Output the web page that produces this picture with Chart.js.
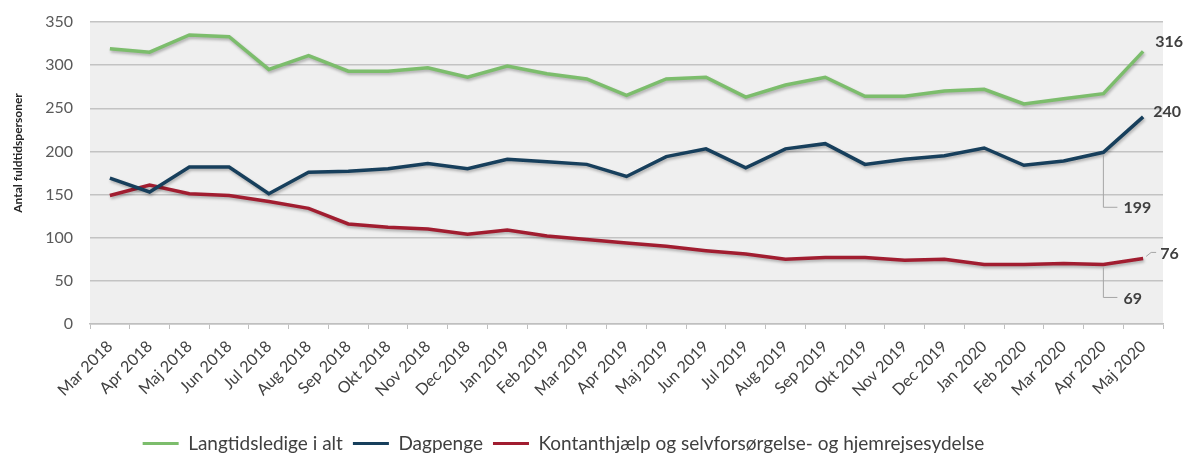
<!DOCTYPE html>
<html lang="da">
<head>
<meta charset="utf-8">
<script src="https://cdn.jsdelivr.net/npm/chart.js@4/dist/chart.umd.min.js"></script>
<style>
  html, body { margin: 0; padding: 0; background: #ffffff; }
  #wrap { width: 1184px; height: 456px; }
</style>
</head>
<body>
<div id="wrap"><canvas id="graf"></canvas></div>
<script>
// Måneder på x-aksen
const maaneder = ['Mar 2018', 'Apr 2018', 'Maj 2018', 'Jun 2018', 'Jul 2018', 'Aug 2018', 'Sep 2018', 'Okt 2018',
  'Nov 2018', 'Dec 2018', 'Jan 2019', 'Feb 2019', 'Mar 2019', 'Apr 2019', 'Maj 2019', 'Jun 2019', 'Jul 2019',
  'Aug 2019', 'Sep 2019', 'Okt 2019', 'Nov 2019', 'Dec 2019', 'Jan 2020', 'Feb 2020', 'Mar 2020', 'Apr 2020', 'Maj 2020'];

// Antal fuldtidspersoner pr. serie
const langtidsledige = [319, 315, 335, 333, 295, 311, 293, 293, 297, 286, 299, 290, 284, 265, 284, 286, 263, 277, 286, 264, 264, 270, 272, 255, 261, 267, 316];
const dagpenge = [169, 153, 182, 182, 151, 176, 177, 180, 186, 180, 191, 188, 185, 171, 194, 203, 181, 203, 209, 185, 191, 195, 204, 184, 189, 199, 240];
const kontanthjaelp = [149, 161, 151, 149, 142, 134, 116, 112, 110, 104, 109, 102, 98, 94, 90, 85, 81, 75, 77, 77, 74, 75, 69, 69, 70, 69, 76];

const yTicks = [0, 50, 100, 150, 200, 250, 300, 350];

// Hvilke punkter får en værditekst: [serie, indeks]
const etiketter = [[0, 26], [1, 26], [1, 25], [2, 26], [2, 25]];

const FONT = 'Lato, "Open Sans", sans-serif';

/* baggrund i plotområdet */
const baggrund = {
  id: 'baggrund',
  beforeDraw(chart) {
    const { ctx, chartArea: a } = chart;
    ctx.save();
    ctx.fillStyle = '#efefef';
    ctx.fillRect(a.left, a.top, a.right - a.left, a.bottom - a.top);
    ctx.restore();
  }
};

/* flytter forklaringen lidt ned og til venstre, som i originalen */
const flytLegende = {
  id: 'flytLegende',
  afterLayout(chart) {
    const l = chart.legend;
    l.left -= 18;
    l.right -= 18;
    l.top += 9;
    l.bottom += 9;
  }
};

/* aksetitel til venstre (tegnes selv for at ramme placeringen) */
const aksetitel = {
  id: 'aksetitel',
  afterDraw(chart) {
    const ctx = chart.ctx;
    ctx.save();
    ctx.translate(18, 153);
    ctx.rotate(-Math.PI / 2);
    ctx.font = 'bold 12px ' + FONT;
    ctx.fillStyle = '#262626';
    ctx.textAlign = 'center';
    ctx.textBaseline = 'middle';
    ctx.fillText('Antal fuldtidspersoner', 0, 0);
    ctx.restore();
  }
};

/* svag skygge under linjerne */
const skygge = {
  id: 'skygge',
  beforeDatasetDraw(chart) {
    const ctx = chart.ctx;
    ctx.save();
    ctx.shadowColor = 'rgba(0,0,0,0.28)';
    ctx.shadowBlur = 3;
    ctx.shadowOffsetX = 1;
    ctx.shadowOffsetY = 2;
  },
  afterDatasetDraw(chart) {
    chart.ctx.restore();
  }
};

/* værditekster med små forbindelseslinjer */
const vaerdier = {
  id: 'vaerdier',
  afterDatasetsDraw(chart) {
    const ctx = chart.ctx;
    ctx.save();
    ctx.font = 'bold 16px ' + FONT;
    ctx.fillStyle = '#404040';
    ctx.textBaseline = 'middle';
    ctx.textAlign = 'left';
    ctx.strokeStyle = '#a6a6a6';
    ctx.lineWidth = 1;

    etiketter.forEach(([s, i]) => {
      const p = chart.getDatasetMeta(s).data[i];
      const v = chart.data.datasets[s].data[i];
      const tekst = String(v);
      const sidste = i === chart.data.labels.length - 1;

      if (sidste && s === 0) {
        ctx.fillText(tekst, p.x + 12, p.y - 9);
      } else if (sidste && s === 1) {
        ctx.fillText(tekst, p.x + 10, p.y - 5);
      } else if (sidste && s === 2) {
        ctx.beginPath();
        ctx.moveTo(p.x + 3, p.y - 2);
        ctx.lineTo(p.x + 8, p.y - 6);
        ctx.lineTo(p.x + 13, p.y - 6);
        ctx.stroke();
        ctx.fillText(tekst, p.x + 17, p.y - 5);
      } else {
        const ned = s === 1 ? 55 : 33;
        ctx.beginPath();
        ctx.moveTo(p.x, p.y + 3);
        ctx.lineTo(p.x, p.y + ned);
        ctx.lineTo(p.x + 14, p.y + ned);
        ctx.stroke();
        ctx.fillText(tekst, p.x + 20, p.y + ned + 1);
      }
    });
    ctx.restore();
  }
};

const serie = (navn, data, farve) => ({
  label: navn,
  data: data,
  borderColor: farve,
  backgroundColor: farve,
  borderWidth: 3.5,
  pointRadius: 0,
  pointHoverRadius: 0,
  tension: 0,
  fill: false
});

new Chart(document.getElementById('graf'), {
  type: 'line',
  data: {
    labels: maaneder,
    datasets: [
      serie('Langtidsledige i alt', langtidsledige, '#7cbd6c'),
      serie('Dagpenge', dagpenge, '#173f5c'),
      serie('Kontanthjælp og selvforsørgelse- og hjemrejsesydelse', kontanthjaelp, '#a11d30')
    ]
  },
  options: {
    responsive: true,
    maintainAspectRatio: false,
    animation: false,
    layout: { padding: { top: 22, right: 21, bottom: 2, left: 0 } },
    scales: {
      x: {
        offset: true,
        grid: {
          offset: true,
          drawOnChartArea: false,
          drawTicks: true,
          tickLength: 5,
          color: '#bfbfbf'
        },
        border: { color: '#bfbfbf', width: 1.5 },
        ticks: {
          autoSkip: false,
          maxRotation: 45,
          minRotation: 45,
          padding: 8,
          color: '#404040',
          font: { family: FONT, size: 16 }
        },
        afterFit(scale) { scale.height = 91; }
      },
      y: {
        min: 0,
        max: 350,
        afterBuildTicks(scale) { scale.ticks = yTicks.map(v => ({ value: v })); },
        grid: { color: '#c3c3c3', lineWidth: 1.5, drawTicks: false },
        border: { display: false },
        ticks: {
          padding: 17,
          color: '#595959',
          font: { family: FONT, size: 16 }
        },
        afterFit(scale) {
          scale.width = 90;
          scale.paddingTop = 10;
          scale.paddingBottom = 10;
        }
      }
    },
    plugins: {
      legend: {
        position: 'bottom',
        labels: {
          boxWidth: 36,
          boxHeight: 3,
          padding: 10,
          color: '#404040',
          font: { family: FONT, size: 19 },
          generateLabels(chart) {
            const std = Chart.defaults.plugins.legend.labels.generateLabels(chart);
            return std.map(l => Object.assign(l, { lineWidth: 0, strokeStyle: 'transparent' }));
          }
        }
      },
      tooltip: { enabled: false }
    }
  },
  plugins: [baggrund, flytLegende, aksetitel, skygge, vaerdier]
});
</script>
</body>
</html>
